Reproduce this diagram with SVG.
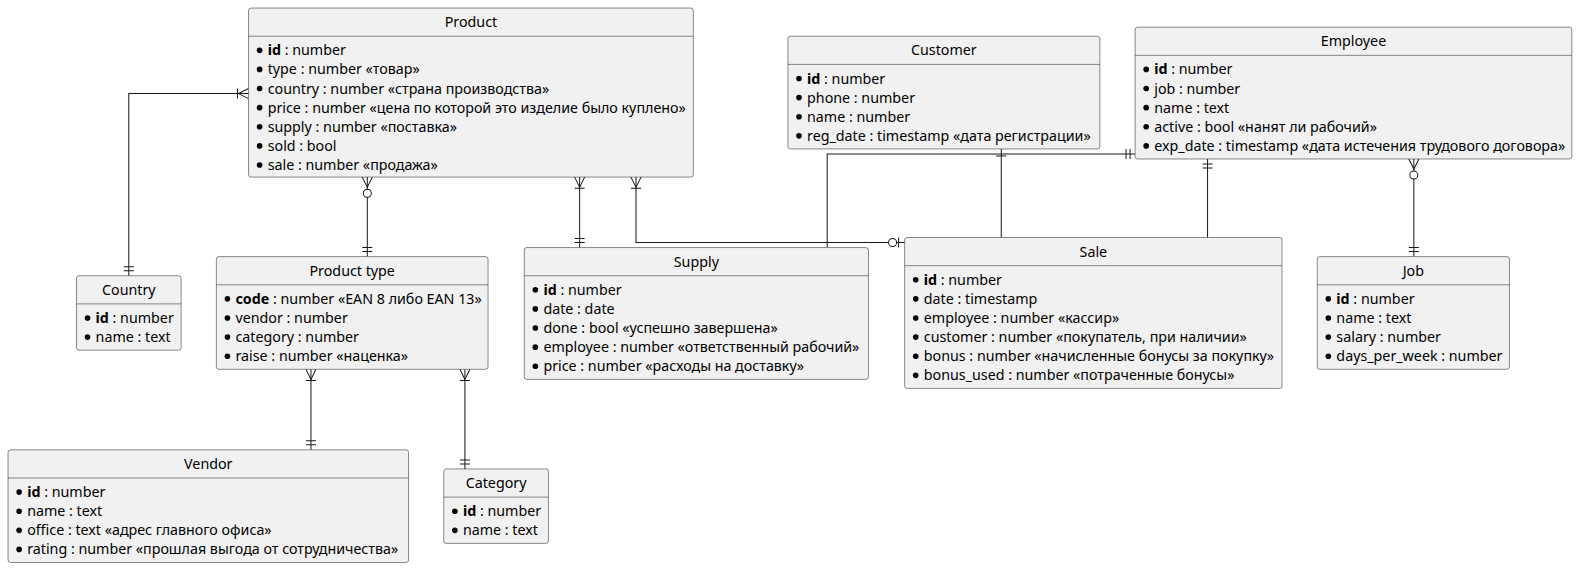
<svg xmlns="http://www.w3.org/2000/svg" xmlns:xlink="http://www.w3.org/1999/xlink" width="1577" height="568" viewBox="0 0 1577 568">
<style>
  .box { fill: #F1F1F1; stroke: #181818; stroke-width: 0.5; }
  .sep { stroke: #181818; stroke-width: 0.5; }
  .title { font-family: "Noto Sans", "Liberation Sans", sans-serif; font-size: 14.2px; fill: #000; text-anchor: middle; }
  .row { font-family: "Noto Sans", "Liberation Sans", sans-serif; font-size: 14.2px; fill: #000; }
  .b { font-weight: bold; }
  .dot { fill: #000; }
  .ln { fill: none; stroke: #181818; stroke-width: 1; }
  .mk { fill: none; stroke: #181818; stroke-width: 1; }
  .mkc { fill: #FFFFFF; stroke: #181818; stroke-width: 1; }
</style>
<defs>
  <g id="oneMany"><path class="mk" d="M-5,0 L0,10 L5,0 M-5,11 L5,11"/></g>
  <g id="zeroMany"><path class="mk" d="M-5,0 L0,10 L5,0"/><circle class="mkc" cx="0" cy="16" r="4"/></g>
  <g id="exactlyOne"><path class="mk" d="M-5,5 L5,5 M-5,9 L5,9"/></g>
  <g id="zeroOne"><path class="mk" d="M-5,6 L5,6"/><circle class="mkc" cx="0" cy="12" r="4"/></g>
  <g id="one"><path class="mk" d="M-5,7 L5,7"/></g>
</defs>
<rect width="1577" height="568" fill="#FFFFFF"/>
<g transform="scale(1.0063)">
<g id="connectors">
  <!-- Country - Product -->
  <path class="ln" d="M128,274 L128,93 L247,93"/>
  <use xlink:href="#oneMany" transform="translate(247,93) rotate(90)"/>
  <use xlink:href="#exactlyOne" transform="translate(128,274) rotate(180)"/>
  <!-- Product - Product type -->
  <path class="ln" d="M365,176 L365,255"/>
  <use xlink:href="#zeroMany" transform="translate(365,176)"/>
  <use xlink:href="#exactlyOne" transform="translate(365,255) rotate(180)"/>
  <!-- Product - Supply -->
  <path class="ln" d="M576,176 L576,246"/>
  <use xlink:href="#oneMany" transform="translate(576,176)"/>
  <use xlink:href="#exactlyOne" transform="translate(576,246) rotate(180)"/>
  <!-- Product - Sale -->
  <path class="ln" d="M632,176 L632,241 L899,241"/>
  <use xlink:href="#oneMany" transform="translate(632,176)"/>
  <use xlink:href="#zeroOne" transform="translate(899,241) rotate(90)"/>
  <!-- Supply - Employee -->
  <path class="ln" d="M822,246 L822,153 L1128,153"/>
  <use xlink:href="#exactlyOne" transform="translate(1128,153) rotate(90)"/>
  <!-- Customer - Sale -->
  <path class="ln" d="M995,148 L995,236"/>
  <use xlink:href="#one" transform="translate(995,148)"/>
  <!-- Employee - Sale -->
  <path class="ln" d="M1200,158 L1200,236"/>
  <use xlink:href="#exactlyOne" transform="translate(1200,158)"/>
  <!-- Employee - Job -->
  <path class="ln" d="M1405,158 L1405,255"/>
  <use xlink:href="#zeroMany" transform="translate(1405,158)"/>
  <use xlink:href="#exactlyOne" transform="translate(1405,255) rotate(180)"/>
  <!-- Product type - Vendor -->
  <path class="ln" d="M309,367 L309,447"/>
  <use xlink:href="#oneMany" transform="translate(309,367)"/>
  <use xlink:href="#exactlyOne" transform="translate(309,447) rotate(180)"/>
  <!-- Product type - Category -->
  <path class="ln" d="M462,367 L462,466"/>
  <use xlink:href="#oneMany" transform="translate(462,367)"/>
  <use xlink:href="#exactlyOne" transform="translate(462,466) rotate(180)"/>
</g>

<g id="product">
  <rect class="box" x="247" y="8" width="442" height="168" rx="2.5"/>
  <line class="sep" x1="247" y1="36" x2="689" y2="36"/>
  <text class="title" x="468" y="27">Product</text>
  <circle class="dot" cx="258" cy="50" r="2.8"/><text class="row" x="266" y="55"><tspan class="b">id</tspan> : number</text>
  <circle class="dot" cx="258" cy="69" r="2.8"/><text class="row" x="266" y="74">type : number «товар»</text>
  <circle class="dot" cx="258" cy="88" r="2.8"/><text class="row" x="266" y="93">country : number «страна производства»</text>
  <circle class="dot" cx="258" cy="107" r="2.8"/><text class="row" x="266" y="112">price : number «цена по которой это изделие было куплено»</text>
  <circle class="dot" cx="258" cy="126" r="2.8"/><text class="row" x="266" y="131">supply : number «поставка»</text>
  <circle class="dot" cx="258" cy="145" r="2.8"/><text class="row" x="266" y="150">sold : bool</text>
  <circle class="dot" cx="258" cy="164" r="2.8"/><text class="row" x="266" y="169">sale : number «продажа»</text>
</g>

<g id="country">
  <rect class="box" x="76" y="274" width="104" height="74" rx="2.5"/>
  <line class="sep" x1="76" y1="302" x2="180" y2="302"/>
  <text class="title" x="128" y="293">Country</text>
  <circle class="dot" cx="87" cy="316" r="2.8"/><text class="row" x="95" y="321"><tspan class="b">id</tspan> : number</text>
  <circle class="dot" cx="87" cy="335" r="2.8"/><text class="row" x="95" y="340">name : text</text>
</g>

<g id="product-type">
  <rect class="box" x="215" y="255" width="270" height="112" rx="2.5"/>
  <line class="sep" x1="215" y1="283" x2="485" y2="283"/>
  <text class="title" x="350" y="274">Product type</text>
  <circle class="dot" cx="226" cy="297" r="2.8"/><text class="row" x="234" y="302"><tspan class="b">code</tspan> : number «EAN 8 либо EAN 13»</text>
  <circle class="dot" cx="226" cy="316" r="2.8"/><text class="row" x="234" y="321">vendor : number</text>
  <circle class="dot" cx="226" cy="335" r="2.8"/><text class="row" x="234" y="340">category : number</text>
  <circle class="dot" cx="226" cy="354" r="2.8"/><text class="row" x="234" y="359">raise : number «наценка»</text>
</g>

<g id="vendor">
  <rect class="box" x="8" y="447" width="398" height="112" rx="2.5"/>
  <line class="sep" x1="8" y1="475" x2="406" y2="475"/>
  <text class="title" x="207" y="466">Vendor</text>
  <circle class="dot" cx="19" cy="489" r="2.8"/><text class="row" x="27" y="494"><tspan class="b">id</tspan> : number</text>
  <circle class="dot" cx="19" cy="508" r="2.8"/><text class="row" x="27" y="513">name : text</text>
  <circle class="dot" cx="19" cy="527" r="2.8"/><text class="row" x="27" y="532">office : text «адрес главного офиса»</text>
  <circle class="dot" cx="19" cy="546" r="2.8"/><text class="row" x="27" y="551">rating : number «прошлая выгода от сотрудничества»</text>
</g>

<g id="category">
  <rect class="box" x="441" y="466" width="104" height="74" rx="2.5"/>
  <line class="sep" x1="441" y1="494" x2="545" y2="494"/>
  <text class="title" x="493" y="485">Category</text>
  <circle class="dot" cx="452" cy="508" r="2.8"/><text class="row" x="460" y="513"><tspan class="b">id</tspan> : number</text>
  <circle class="dot" cx="452" cy="527" r="2.8"/><text class="row" x="460" y="532">name : text</text>
</g>

<g id="supply">
  <rect class="box" x="521" y="246" width="342" height="131" rx="2.5"/>
  <line class="sep" x1="521" y1="274" x2="863" y2="274"/>
  <text class="title" x="692" y="265">Supply</text>
  <circle class="dot" cx="532" cy="288" r="2.8"/><text class="row" x="540" y="293"><tspan class="b">id</tspan> : number</text>
  <circle class="dot" cx="532" cy="307" r="2.8"/><text class="row" x="540" y="312">date : date</text>
  <circle class="dot" cx="532" cy="326" r="2.8"/><text class="row" x="540" y="331">done : bool «успешно завершена»</text>
  <circle class="dot" cx="532" cy="345" r="2.8"/><text class="row" x="540" y="350">employee : number «ответственный рабочий»</text>
  <circle class="dot" cx="532" cy="364" r="2.8"/><text class="row" x="540" y="369">price : number «расходы на доставку»</text>
</g>

<g id="customer">
  <rect class="box" x="783" y="36" width="310" height="112" rx="2.5"/>
  <line class="sep" x1="783" y1="64" x2="1093" y2="64"/>
  <text class="title" x="938" y="55">Customer</text>
  <circle class="dot" cx="794" cy="78" r="2.8"/><text class="row" x="802" y="83"><tspan class="b">id</tspan> : number</text>
  <circle class="dot" cx="794" cy="97" r="2.8"/><text class="row" x="802" y="102">phone : number</text>
  <circle class="dot" cx="794" cy="116" r="2.8"/><text class="row" x="802" y="121">name : number</text>
  <circle class="dot" cx="794" cy="135" r="2.8"/><text class="row" x="802" y="140">reg_date : timestamp «дата регистрации»</text>
</g>

<g id="employee">
  <rect class="box" x="1128" y="27" width="434" height="131" rx="2.5"/>
  <line class="sep" x1="1128" y1="55" x2="1562" y2="55"/>
  <text class="title" x="1345" y="46">Employee</text>
  <circle class="dot" cx="1139" cy="69" r="2.8"/><text class="row" x="1147" y="74"><tspan class="b">id</tspan> : number</text>
  <circle class="dot" cx="1139" cy="88" r="2.8"/><text class="row" x="1147" y="93">job : number</text>
  <circle class="dot" cx="1139" cy="107" r="2.8"/><text class="row" x="1147" y="112">name : text</text>
  <circle class="dot" cx="1139" cy="126" r="2.8"/><text class="row" x="1147" y="131">active : bool «нанят ли рабочий»</text>
  <circle class="dot" cx="1139" cy="145" r="2.8"/><text class="row" x="1147" y="150">exp_date : timestamp «дата истечения трудового договора»</text>
</g>

<g id="sale">
  <rect class="box" x="899" y="236" width="375" height="150" rx="2.5"/>
  <line class="sep" x1="899" y1="264" x2="1274" y2="264"/>
  <text class="title" x="1086.5" y="255">Sale</text>
  <circle class="dot" cx="910" cy="278" r="2.8"/><text class="row" x="918" y="283"><tspan class="b">id</tspan> : number</text>
  <circle class="dot" cx="910" cy="297" r="2.8"/><text class="row" x="918" y="302">date : timestamp</text>
  <circle class="dot" cx="910" cy="316" r="2.8"/><text class="row" x="918" y="321">employee : number «кассир»</text>
  <circle class="dot" cx="910" cy="335" r="2.8"/><text class="row" x="918" y="340">customer : number «покупатель, при наличии»</text>
  <circle class="dot" cx="910" cy="354" r="2.8"/><text class="row" x="918" y="359">bonus : number «начисленные бонусы за покупку»</text>
  <circle class="dot" cx="910" cy="373" r="2.8"/><text class="row" x="918" y="378">bonus_used : number «потраченные бонусы»</text>
</g>

<g id="job">
  <rect class="box" x="1309" y="255" width="191" height="112" rx="2.5"/>
  <line class="sep" x1="1309" y1="283" x2="1500" y2="283"/>
  <text class="title" x="1404.5" y="274">Job</text>
  <circle class="dot" cx="1320" cy="297" r="2.8"/><text class="row" x="1328" y="302"><tspan class="b">id</tspan> : number</text>
  <circle class="dot" cx="1320" cy="316" r="2.8"/><text class="row" x="1328" y="321">name : text</text>
  <circle class="dot" cx="1320" cy="335" r="2.8"/><text class="row" x="1328" y="340">salary : number</text>
  <circle class="dot" cx="1320" cy="354" r="2.8"/><text class="row" x="1328" y="359">days_per_week : number</text>
</g>
</g>
</svg>
